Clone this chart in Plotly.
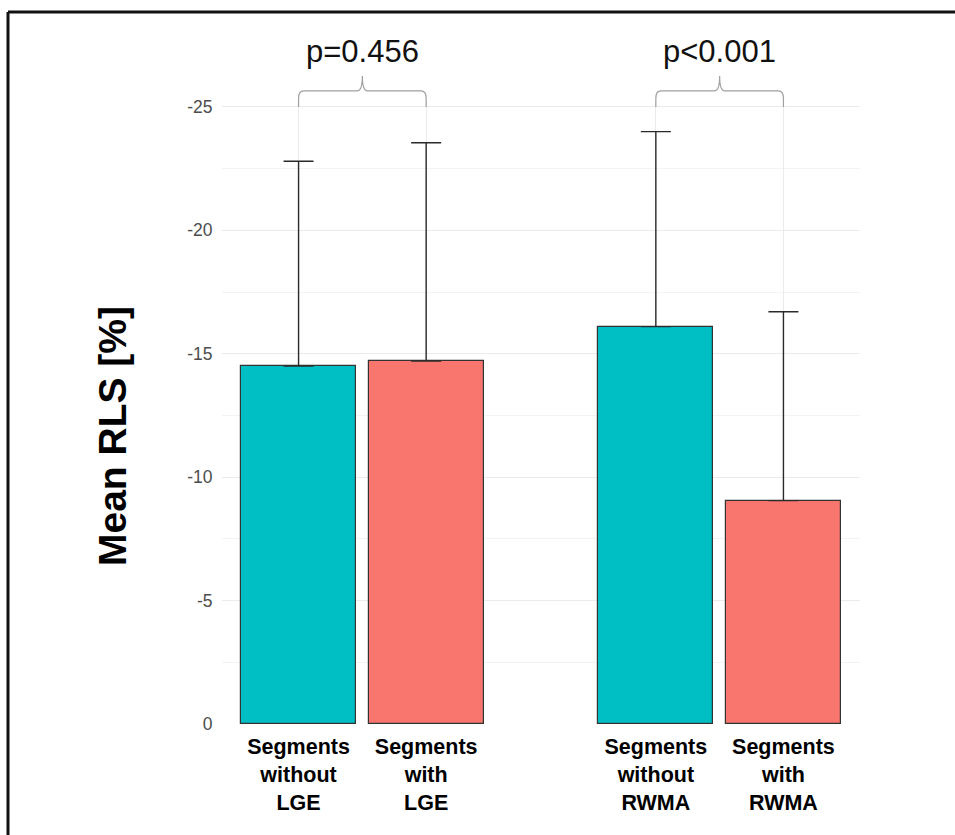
import plotly.graph_objects as go

# ---- data ----
groups = ["LGE", "RWMA"]
categories = ["Segments<br>without<br>LGE", "Segments<br>with<br>LGE",
              "Segments<br>without<br>RWMA", "Segments<br>with<br>RWMA"]
mean_rls = [-14.5, -14.7, -16.1, -9.05]
sd_rls = [8.3, 8.85, 7.9, 7.65]
p_labels = ["p=0.456", "p<0.001"]
y_ticks = [0, -5, -10, -15, -20, -25]
y_minor = [-2.5, -7.5, -12.5, -17.5, -22.5]

TEAL = "#00BFC4"
SALMON = "#F8766D"
colors = [TEAL, SALMON, TEAL, SALMON]

# x positions: two bars per group, extra gap between groups
group_step = 2.8
xpos = [gi * group_step + j + 1 for gi in range(len(groups)) for j in range(2)]

W, H = 955, 835
ML, MR, MT, MB = 222, 95, 102, 111
PW, PH = W - ML - MR, H - MT - MB
Y_TOP = -25.2

def ypaper(v):
    return v / Y_TOP

FONT = "Liberation Sans, Arial"

fig = go.Figure()
fig.add_trace(go.Bar(
    x=xpos, y=mean_rls, width=0.9,
    marker=dict(color=colors, line=dict(color="#333333", width=1.2)),
    error_y=dict(type="data", symmetric=False, array=[0] * 4, arrayminus=sd_rls,
                 color="#2a2a2a", thickness=1.4, width=15),
    showlegend=False,
))

shapes = []
annotations = []
# significance brackets
for gi, lab in enumerate(p_labels):
    x1, x2 = xpos[2 * gi], xpos[2 * gi + 1]
    xm = (x1 + x2) / 2
    y0 = ypaper(-25.0)
    yt = ypaper(-25.65)
    yn = ypaper(-26.25)
    rx = 0.04
    ry = 0.012
    path = (f"M {x1},{y0} L {x1},{yt - ry} Q {x1},{yt} {x1 + rx},{yt} "
            f"L {xm - rx},{yt} Q {xm},{yt} {xm},{yn} "
            f"Q {xm},{yt} {xm + rx},{yt} L {x2 - rx},{yt} "
            f"Q {x2},{yt} {x2},{yt - ry} L {x2},{y0}")
    shapes.append(dict(type="path", xref="x", yref="paper", path=path,
                       line=dict(color="#a0a0a0", width=1.2)))
    annotations.append(dict(x=xm, y=ypaper(-27.25), xref="x", yref="paper",
                            text=lab, showarrow=False, xanchor="center", yanchor="middle",
                            font=dict(family=FONT, size=31, color="#111111")))

# y-axis title
annotations.append(dict(x=(112 - ML) / PW, y=(H - MB - 436) / PH, xref="paper", yref="paper",
                        text="<b>Mean RLS [%]</b>", textangle=-90, showarrow=False,
                        xanchor="center", yanchor="middle",
                        font=dict(family=FONT, size=39, color="#000000")))

# outer border: only the left and top edges fall inside the canvas
bx0, by1 = (8 - ML) / PW, (H - MB - 12) / PH
shapes.append(dict(type="line", xref="paper", yref="paper",
                   x0=bx0, x1=bx0, y0=(H - MB - 850) / PH, y1=by1,
                   line=dict(color="#111111", width=3)))
shapes.append(dict(type="line", xref="paper", yref="paper",
                   x0=bx0, x1=(975 - ML) / PW, y0=by1, y1=by1,
                   line=dict(color="#111111", width=3)))

fig.update_layout(
    width=W, height=H,
    margin=dict(l=ML, r=MR, t=MT, b=MB, autoexpand=False),
    paper_bgcolor="white", plot_bgcolor="white",
    shapes=shapes, annotations=annotations,
    font=dict(family=FONT),
    bargap=0,
)
fig.update_xaxes(
    range=[0.4, 5.4], tickvals=xpos, ticktext=[f"<b>{c}</b>" for c in categories],
    tickfont=dict(size=21.5, color="#000000", family=FONT),
    showgrid=True, gridcolor="#EBEBEB", gridwidth=1,
    zeroline=False, showline=False, ticks="outside", ticklen=3, tickcolor="rgba(0,0,0,0)",
)
fig.update_yaxes(
    range=[0, Y_TOP], tickvals=y_ticks, ticktext=[str(v) for v in y_ticks],
    tickfont=dict(size=17.5, color="#4D4D4D", family=FONT),
    showgrid=True, gridcolor="#EBEBEB", gridwidth=1.1,
    minor=dict(tickvals=y_minor, showgrid=True, gridcolor="#F3F3F3", gridwidth=1),
    zeroline=False, showline=False, ticks="outside", ticklen=5, tickcolor="rgba(0,0,0,0)",
)

fig.write_html("out.html", config={"displayModeBar": False},
               post_script="document.body.style.margin='0';document.body.style.overflow='hidden';")
